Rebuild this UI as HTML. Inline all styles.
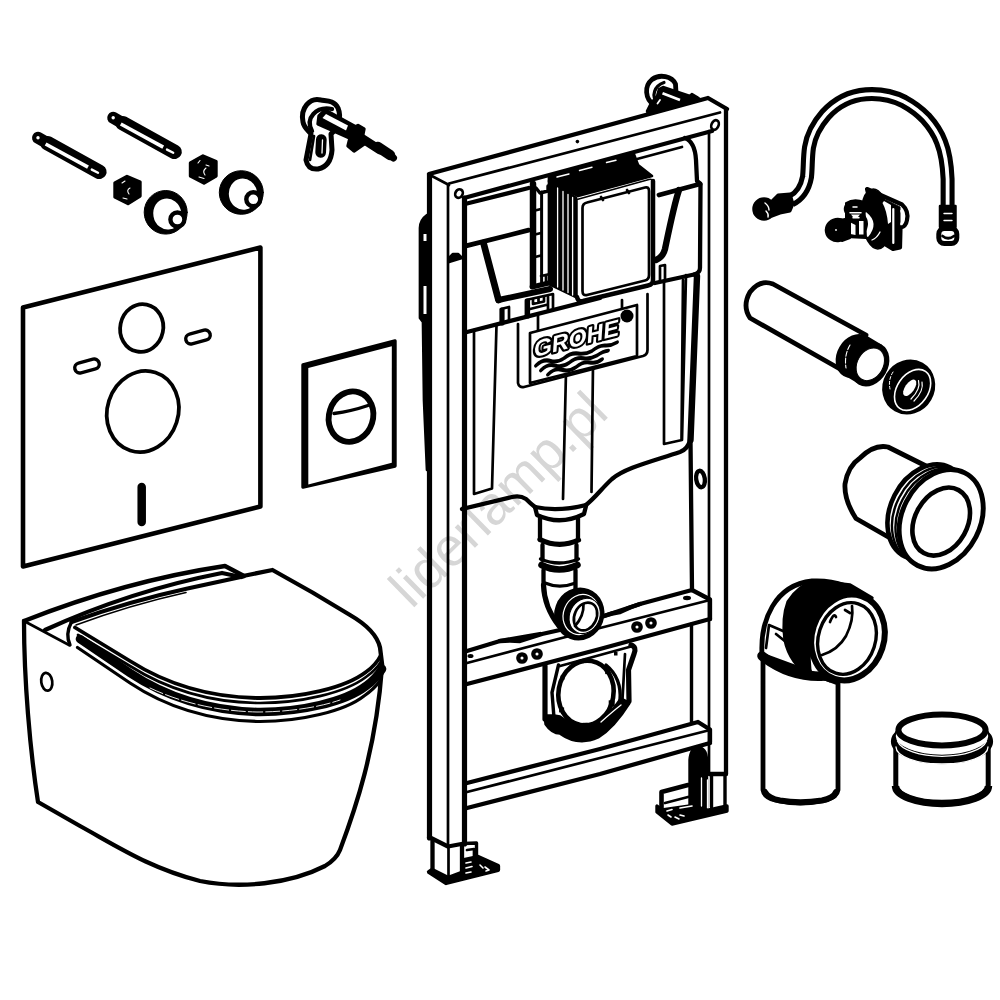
<!DOCTYPE html>
<html><head><meta charset="utf-8">
<style>
html,body{margin:0;padding:0;background:#fff;}
body{width:1000px;height:1000px;overflow:hidden;font-family:"Liberation Sans",sans-serif;}
svg{display:block}
.k{stroke:#000;fill:none;stroke-linecap:round;stroke-linejoin:round}
.w{fill:#fff}
.b{fill:#000}
.s1{stroke-width:1.6}.s2{stroke-width:2.7}.s3{stroke-width:3.4}.s4{stroke-width:4.3}.s5{stroke-width:5.2}.s6{stroke-width:6.2}
</style></head><body>
<svg width="1000" height="1000" viewBox="0 0 1000 1000">
<rect width="1000" height="1000" fill="#fff"/>
<!-- WATERMARK -->
<g id="wm"><text x="0" y="0" transform="translate(411.8,609.8) rotate(-44.4)" font-family="Liberation Sans, sans-serif" font-size="54.4" fill="#d6d6d6">liderlamp.pl</text></g>

<!-- MAT -->
<g id="mat" class="k">
<polygon points="23,307.5 260.4,247.5 260.4,506.5 23,566.5" stroke-width="4.6"/>
<ellipse stroke-width="3.8" cx="141.7" cy="328" rx="21.5" ry="24" transform="rotate(12 141.7 328)"/>
<ellipse stroke-width="3.8" cx="142.8" cy="411.5" rx="35.5" ry="41" transform="rotate(18 142.8 411.5)"/>
<rect class="s3" x="185.5" y="332" width="25" height="10" rx="5" transform="rotate(-15 198 337)"/>
<rect class="s3" x="74.5" y="361" width="25" height="10" rx="5" transform="rotate(-15 87 366)"/>
<line x1="141.7" y1="487" x2="141.7" y2="522" stroke-width="8.5"/>
</g>

<!-- FLUSH PLATE -->
<g id="plate">
<polygon class="b k s3" points="303,365 395,341 395,466 303,487"/>
<polygon class="w" points="308.3,368 391.8,346.3 391.8,462.8 308.3,484.6"/>
<ellipse class="k" stroke-width="5.9" cx="351" cy="416.6" rx="22" ry="25.5" transform="rotate(18 351 416.6)"/>
<path class="k s3" d="M334,413.5 Q352,411 368,405.5"/>
</g>

<!-- TOILET -->
<g id="toilet" class="k">
<path class="s4" d="M24,621 C24,680 30,750 38,802 L80,826 C120,848 150,868 200,881 C240,889 290,884 325,866 C335,860 338,855 340,850 C355,810 376,750 382,667"/>
<path class="s4" d="M24,621 Q125,581 225,566 L244,576"/>
<path class="s4" d="M45,630 Q130,591 222,573 L241,577"/>
<path class="s2" d="M24,621 L69,645"/>
<path class="s4" d="M243,576 L272.5,570 L312.5,592.5 L350,615 Q376,630 380,647.5 L382.5,667.5"/>
<path class="s4" d="M71.5,622 Q130,601 187.5,588.5 L243,576.5"/>
<path class="s1" d="M76,625 Q130,605 186,592.5"/>
<path class="s3" d="M71.5,622 Q65,634 70,645"/>
<path stroke-width="3.8" d="M75,627.5 L130,661 C160,680 200,697 257,698 C300,698.5 345,688 366,672 Q376,665 381,655"/>
<path class="s2" d="M78,635 L130,666 C160,685 200,702 257,703 C300,703.5 345,693 366,677 Q376,670 381.5,661"/>
<path d="M80,639 L130,673 C160,693 200,710 257,712 C300,712.5 345,702 366,686 Q376,679 382,669" stroke-width="8.6"/>
<path d="M150,688 C180,702 215,711 257,712 C290,712 320,707 340,700" stroke="#fff" stroke-width="0.9" stroke-dasharray="14 3"/>
<path stroke-width="3.2" d="M77.5,647.5 L130,683 C160,703 200,720 257,721.5 C300,722 345,711 364,696 Q374,689 380,681"/>
<ellipse class="s2" cx="46.75" cy="681.75" rx="5.5" ry="9" transform="rotate(-8 46.75 681.75)"/>
</g>

<!-- FRAME -->
<g id="frame" class="k">
<!-- left post -->
<line class="s5" x1="429.5" y1="175" x2="429.5" y2="838"/>
<line class="s2" x1="448" y1="185" x2="448" y2="846"/>
<line class="s5" x1="464.5" y1="198" x2="464.5" y2="844"/>
<!-- top beam -->
<path class="s4" d="M429,174 L708,98 L727,109"/>
<path class="s2" d="M430,175 L449,185"/>
<path class="s2" d="M449,183.5 L720,112.5"/>
<path class="s4" d="M464,198 L712,131"/>
<ellipse class="s2" cx="459" cy="193.6" rx="3.6" ry="4.4" fill="#fff" transform="rotate(30 459 193.6)"/>
<ellipse class="s2" cx="715" cy="125" rx="3.5" ry="5" fill="#fff" transform="rotate(25 715 125)"/>
<circle cx="577.4" cy="141.6" r="1.8" fill="#000" stroke="none"/>
<!-- right post -->
<line class="s4" x1="726" y1="109" x2="726" y2="774"/>
<line class="s2" x1="709" y1="131" x2="709" y2="774"/>
<path class="s4" d="M685,138 Q695,142 696,160 L697,181 L700.5,184 L700,268 Q700,273 694,274.5"/>
<path d="M697,276 L690.5,440" stroke-width="6.4"/><path class="s4" d="M690.5,440 L692,590"/>
<line class="s3" x1="691.5" y1="624" x2="691.5" y2="722"/>
<!-- upper cross beam -->
<path class="s4" d="M467,651 L500,641 L540,634"/>
<path class="s4" d="M604,616 L640,604 L692,590 L710,599.5 L710,619"/>
<path class="s2" d="M467,663 L600,628 L710,600"/>
<path class="s4" d="M467,684 L600,649 L710,619"/>
<!-- lower cross beam -->
<path class="s4" d="M467,783 L600,749 L698,722 L710,729.5 L710,742"/>
<path class="s2" d="M467,792 L600,758 L710,730"/>
<path class="s4" d="M467,808 L600,774 L710,743"/>
</g>

<!-- TANK -->
<g id="tank" class="k">
<!-- top back line under beam -->
<path class="s4" d="M467,203.5 L528.6,188"/>
<path class="s2" d="M637,159 L682,147"/>
<!-- recess left -->
<path d="M467,245.6 L528.6,230.2" stroke-width="4.8"/>
<path d="M483.5,243 L498.5,300" stroke-width="6.8"/><path d="M498.5,300 L550,289" stroke-width="6"/>
<!-- recess right -->
<path d="M659,195 L700,184" stroke-width="4.8"/>
<path d="M679,190 C674,205 669,230 665,249 Q663,257 656,260" stroke-width="6.4"/>
<!-- tank front-top edge -->
<path class="s4" d="M467,332 L600,298"/>
<path class="s4" d="M655,283 L694,274.5"/>
<!-- small tabs -->
<path class="s2" d="M509,307 L509,321 M501,309 L509,307"/><path class="s5" d="M502,323 L502,310"/>
<path class="s2" d="M526,317 L526,300 L553,294 L553,310 M530,309 L546,305 M548,296 L548,311"/><path class="s5" d="M527.5,316 L527.5,301"/><path class="s2" d="M533,299 L533,304 L544,301.5 L544,297 M538.5,298 L538.5,302"/>
<path class="s2" d="M660,281 L660,266 L665,265 L665,279"/>
<!-- left rib -->
<path class="s2" d="M474,330 L474,494 L492,488.5 L496.5,325"/>
<!-- right rib -->
<path class="s2" d="M664,281 L664,444 L682,440 L686,275 M681.5,440 L683,280"/>
<!-- center channel -->
<path class="s2" d="M566,372 L563,499"/>
<path class="s2" d="M593,365 L591.5,492"/>
<!-- tank bottom -->
<path class="s4" d="M462,509 L512,497 Q520,495 526,499 Q531,504 535,507 M586,505 C596,497 602,488 612,479 C625,468 650,462 680,452 Q688,449 690,440"/>
<!-- GROHE plate -->
<path class="s2" d="M518,324 L518,383 Q519,388 524,387 L643,356 Q647.5,354.5 647.5,350 L647.5,294"/>
<path class="s2" d="M538,331 L538,315"/>
<path class="s2" d="M622,312 L622,300"/>
<polygon class="s2" points="530,333 637,305 637,356 530,383" fill="#fff"/>
<circle cx="627" cy="316" r="6.5" fill="#000" stroke="none"/>
</g>

<!-- CONTROL BOX -->
<g id="cbox" class="k">
<!-- left ladder bracket -->
<path d="M533,184 L533,285" stroke-width="6.5"/>
<path d="M541.6,192 L541.6,284" stroke-width="3"/>
<path class="s2" d="M533,211 L541,209 M533,235 L541,233 M533,257.5 L541,255.5"/>
<path class="s3" d="M536,188 L540,193 L548,191 L548,186"/>
<path d="M532,287 L553,282" stroke-width="5"/>
<path class="s2" d="M541,276 L550,274 M546,275 L546,283"/>
<!-- box body black side with ribs -->
<polygon class="b s2" points="549,181 576,198 576,297 549,284"/>
<path stroke="#fff" stroke-width="1.3" d="M557.6,188 L557.6,287 M563,191.5 L563,290 M568,194.5 L568,292.5 M572.6,197.5 L572.6,295" fill="none"/>
<!-- top black -->
<polygon class="b s2" points="549,177 568,171 634,154.5 638,165 652,176 578,196 549,181"/>
<path stroke="#fff" stroke-width="1.4" d="M557,177 L569,174 M579.5,170.5 L592,167.2 M606.5,162.5 L616,160.3" fill="none"/>
<!-- front frame -->
<path class="w" d="M577,199.5 L649,179.5 Q653,178.5 653,183 L653,280 Q653,284 649,285 L583,300.5 Q577,301.5 577,296 Z" stroke-width="1.5"/>
<path d="M653,181 L653,280 Q653,284.5 648,285.5 L583,301 Q578,302 577,297" stroke-width="4.5"/>
<path class="s2" d="M582.5,208 Q582.5,203.5 587,202.5 L645,187.5 Q649,186.5 649,191 L649,275 Q649,279.5 645,280.5 L587,295 Q582.5,296 582.5,291 Z"/>
<path class="s2" d="M601,197 L603,200 M627,190 L629,193"/>
</g>

<!-- FLUSH PIPE -->
<g id="fpipe" class="k">
<path class="s4 w" d="M535,507 L537,515 Q560,526 584,514 L586,506"/>
<path class="s4" d="M535,507 Q558,512 586,505"/>
<path class="s4" d="M540,518 L540,540 M578,517 L578,540"/>
<path class="s5" d="M540,539.5 Q559,549 578.5,540"/>
<path class="s4" d="M542.5,545 L542.5,560 M576.5,545 L576.5,560"/>
<path class="s3" d="M540.5,559 Q559,567 578.5,559"/>
<path d="M541.5,565 Q559,574 577.5,565" stroke-width="6.5"/>
<path class="s4" d="M543.5,570 L543.5,585 M575.5,570 L575.5,589"/>
<path class="s3" d="M545,583 Q559,589 574,583.5"/>
<path class="s5" d="M543.5,585 C544,600 548,612 559,626"/>
<!-- outlet ring -->
<ellipse class="b" cx="579.3" cy="614" rx="23" ry="24.5" stroke-width="4" transform="rotate(20 579.3 614)"/>
<ellipse cx="581" cy="614.5" rx="17.5" ry="20.5" fill="none" stroke="#fff" stroke-width="1.2" transform="rotate(22 581 614.5)"/>
<ellipse class="w" cx="584.7" cy="615.9" rx="15" ry="18.2" stroke-width="1" transform="rotate(25 584.7 615.9)"/>
<ellipse class="s2" cx="585.5" cy="616.5" rx="11" ry="14.5" transform="rotate(25 585.5 616.5)"/>
<path class="s2" d="M575,626 Q584,616 583.5,604"/>
</g>
<!-- beam holes -->
<g class="k">
<circle class="s4" cx="522" cy="658" r="3.7"/><circle class="s4" cx="537" cy="654" r="3.7"/>
<circle class="s4" cx="637" cy="627" r="3.7"/><circle class="s4" cx="651" cy="623" r="3.7"/>
<ellipse cx="470.5" cy="656" rx="3" ry="2" fill="#000" stroke="none"/>
<ellipse cx="687" cy="598" rx="4" ry="2.2" fill="#000" stroke="none"/>
<ellipse class="s4" cx="700.5" cy="479" rx="4.3" ry="8.3" fill="#fff" transform="rotate(-8 700.5 479)"/>
<!-- beam top-back between -->
<path class="s4" d="M500,641 Q510,640 520,641 L542,634 L560,630"/>
<path class="s4" d="M604,616 Q612,613 620,612 Q630,607 640,604"/>
</g>
<!-- DRAIN HOLDER -->
<g id="drain" class="k">
<path class="s2" d="M560,666 L631,646.5"/>
<path class="s5" d="M545,666 L545,719"/>
<path class="s3" d="M558.5,665 L552,692.5 L554,718"/>
<path class="s5" d="M631,645 Q637,647 634,654 L628.5,670 L629,701"/>
<path class="s2" d="M625,654 L622.5,699"/>
<ellipse cx="586" cy="693" rx="27.5" ry="32.5" transform="rotate(10 586 693)" stroke-width="4.6"/>
<path class="s3" d="M606,665 Q622,678 620,701"/>
<path class="b s3" d="M545,716 L546,724 Q552,733 560,733 Q578,746 598,737 Q614,727 629,703 L621,699 Q606,721 592,725 Q575,729 560,717 L554,716 Z"/>
<path stroke="#fff" stroke-width="1.3" fill="none" d="M601,722 Q612,712 621,705"/>
<g fill="#000" stroke="none"><rect x="580.0" y="659.3" width="4" height="4"/><rect x="560.5" y="675.6" width="4" height="4"/><rect x="559.1" y="707.4" width="5" height="5"/><rect x="582.6" y="722.8" width="5" height="5"/><rect x="608.7" y="700.3" width="6" height="6"/><rect x="605.2" y="669.1" width="5" height="5"/><rect x="614" y="652" width="3.5" height="3.5"/></g>
</g>

<!-- LEFT FOOT -->
<g id="lfoot" class="k">
<path class="s4" d="M429,837 L448,846.5 L464,843.5"/>
<path class="s4" d="M432.5,841 L432.5,872 M462,846 L462,872"/>
<path class="s2" d="M448.5,848 L448.5,878"/>
<path class="s3" d="M464,843.5 L476.5,843 L476.5,858"/>
<path class="s2" d="M467,850 L474,849 L474,858"/>
<path class="b s4" d="M429,872 L446,883 L498,870 L498,866 L478,857 L464,860 L464,872 L448,878 L432,870 Z"/>
<path stroke="#fff" stroke-width="1.6" fill="none" d="M466,863 L471,862 M466,868 L472,866.5 M466,873 L471,872 M480,865 L483,868 M485,867 L489,870 L486,871"/>
</g>
<!-- RIGHT FOOT -->
<g id="rfoot" class="k">
<path class="s4" d="M709,774 L726,774"/>
<path class="s3" d="M711.5,776 L711.5,807 M725,776 L725,806"/>
<path class="b s3" d="M690,760 Q691,748 698,748 Q706,748 706.5,760 L706.5,808 L690,810 Z"/>
<path stroke="#fff" stroke-width="1.3" fill="none" d="M701.5,778 L701.5,806 M707.5,780 L707.5,808"/>
<path stroke-width="4.6" d="M661.5,808 L661.5,792 L688,785"/>
<path class="s2" d="M665,803 L688,797"/>
<path class="b s3" d="M657,806 L657,812 L672,824 L727,811 L727,806 L700,812 L690,806 L662,810 Z"/>
<path stroke="#fff" stroke-width="1.6" fill="none" d="M667,811 L672,809.5 M680,808 L692,806 M668,815 L671,817 M675,817 L679,819 M680,815 L684,816"/>
</g>
<!-- LEFT SIDE BRACKET -->
<g id="lbr" class="k">
<path class="b s2" d="M427,215 Q420,220 420,228 L420,318 L423,322 L424,400 L427,470 L427,215 Z"/>
<path stroke="#fff" stroke-width="3" fill="none" stroke-linecap="butt" d="M425,234 L425,241 M425,286 L425,314"/>
<path class="b s2" d="M449,258 L453,254 L458,254 L462,258 L449,262 Z"/>
</g>
<!-- WALL BRACKET TOP -->
<g id="wbr" class="k">
<path class="w" stroke-width="4.8" d="M654,105 C645,99 644,86 652,79.5 C660,73.5 672,76.5 675.5,84 L676,93"/>
<path stroke-width="3.2" d="M657.5,103 C651,96 654,86 664,82.5"/>
<path class="b" stroke-width="2.5" d="M651,103 L657,96 L659,89 L663,87 L690,96 L692,94 L697,97 L701,100 L648,114 L647,111 Z"/>
<path stroke="#fff" stroke-width="2.8" fill="none" stroke-linecap="butt" d="M662.5,93.2 L680,100"/>
<path stroke="#fff" stroke-width="1.8" fill="none" d="M657.5,103.5 L660,100"/>
</g>

<!-- BOLTS -->
<g id="bolts" class="k">
<line x1="38" y1="137.8" x2="44.5" y2="141.4" stroke-width="12"/>
<line x1="47.5" y1="143.2" x2="99.3" y2="171.8" stroke-width="14.6"/>
<line x1="45.6" y1="144" x2="88" y2="167.2" stroke="#fff" stroke-width="3.6" stroke-linecap="butt"/>
<line x1="91.8" y1="169.6" x2="98" y2="172.8" stroke="#fff" stroke-width="2.4"/>
<circle cx="38" cy="137.8" r="1.7" fill="#fff" stroke="none"/>
<line x1="113.2" y1="117.8" x2="119.7" y2="121.4" stroke-width="12"/>
<line x1="122.7" y1="123.2" x2="174.5" y2="151.8" stroke-width="14.6"/>
<line x1="120.8" y1="124" x2="163.2" y2="147.2" stroke="#fff" stroke-width="3.6" stroke-linecap="butt"/>
<line x1="167.0" y1="149.6" x2="173.2" y2="152.8" stroke="#fff" stroke-width="2.4"/>
<circle cx="113.2" cy="117.8" r="1.7" fill="#fff" stroke="none"/>
</g>
<!-- NUTS -->
<g id="nuts" class="k">
<polygon class="b s3" points="115,183 127,176.5 140,182 140,196 128,203.5 115,197"/>
<path stroke="#fff" stroke-width="1.1" fill="none" d="M122,183 L125,181 M130,188 Q126,190 129,194 M123,198 L127,199"/>
<polygon class="b s3" points="190.5,163 203,156 216,161.5 216,176 204,183 190.5,176"/>
<path stroke="#fff" stroke-width="1.1" fill="none" d="M198,163 L200,160.5 M206,165 L209,166 M206,168 Q202,171 205,175 M199,177 L204,178.5"/>
</g>
<!-- CAPS -->
<g id="caps" class="k">
<ellipse class="b" cx="165.7" cy="212.3" rx="21.5" ry="21.8" stroke-width="1"/>
<ellipse class="w" cx="167.3" cy="214" rx="14" ry="15.6" stroke="none" transform="rotate(-10 167.3 214)"/>
<circle class="w" cx="177.4" cy="219.5" r="7" stroke-width="4.4"/>
<ellipse class="b" cx="241.3" cy="192.5" rx="22" ry="21.8" stroke-width="1"/>
<ellipse class="w" cx="243.1" cy="194.2" rx="14.2" ry="15.6" stroke="none" transform="rotate(-10 243.1 194.2)"/>
<circle class="w" cx="253.3" cy="199.3" r="7" stroke-width="4.4"/>
</g>
<!-- WALL ANCHOR (top left bracket) -->
<g id="anchor" class="k">
<path class="w" stroke-width="5" d="M321,100 C310,97 300,108 303,122 C304,128 309,131 311,134 L306,160 Q308,170 318,169 Q331,166 332,150 L331,134 C338,128 342,118 338,108 C334,100 326,101 321,100 Z"/>
<path class="s4" d="M312,131 C305,118 316,106 332,109"/>
<path class="s2" d="M314,136 L310,160"/>
<rect class="b s2" x="317" y="135.5" width="8" height="21" rx="4" transform="rotate(3 321 146)"/>
<path stroke="#fff" stroke-width="1.3" fill="none" d="M322.5,140 L322,153"/>
<polygon class="b s3" points="319,116 325,110 356,127 354,140 318,124"/>
<polygon class="w" points="322.5,118 326,114 348,125.5 346,130.5" stroke="none"/>
<line x1="322" y1="121" x2="345" y2="131.5" stroke="#000" stroke-width="1.6"/>
<polygon class="b s3" points="349,130 358,125.5 364,129 362,139 364,144 354,151 348,146 350,138"/>
<line x1="352" y1="132" x2="380" y2="150" stroke-width="9"/>
<line x1="378" y1="147" x2="390" y2="155" stroke-width="10.5"/>
<line x1="390" y1="155" x2="393.5" y2="158" stroke-width="7"/>
</g>

<!-- HOSE -->
<g id="hose" class="k">
<path d="M791,200.5 C800,196 805,188 807,177 C808,168 807.5,158 809,147.5 C811,135 818,123 825.5,114.5 C836,103 850,95.5 866,94.3 C880,93.3 893,96 904,101.6 C914,107 920,112 925.6,117.8 C933,126 938,134 941,142 C945,152 947,165 947.6,179 L947.6,207" stroke-width="14" stroke-linecap="butt"/>
<path d="M791,200.5 C800,196 805,188 807,177 C808,168 807.5,158 809,147.5 C811,135 818,123 825.5,114.5 C836,103 850,95.5 866,94.3 C880,93.3 893,96 904,101.6 C914,107 920,112 925.6,117.8 C933,126 938,134 941,142 C945,152 947,165 947.6,179 L947.6,207" stroke="#fff" stroke-width="3.8" stroke-linecap="butt"/>
<circle class="b" cx="764" cy="209" r="10.5" stroke-width="2.5"/>
<path class="b" d="M772,201 L778,195 L790,194 L793,204 L790,211 L780,213 L772,216 Z" stroke-width="3"/>
<path stroke="#fff" stroke-width="1.4" fill="none" d="M765,203 Q769,206 769,210 M766,211 Q769,214 768,217"/>
<rect class="b" x="940" y="206" width="15.5" height="21" stroke-width="2.5"/>
<path stroke="#fff" stroke-width="1.4" fill="none" d="M944,213.5 L952,213.5 M944,220.5 L952,220.5"/>
<rect class="w" x="938.8" y="228.5" width="18" height="15" rx="5.5" stroke-width="5"/>
<path class="s2" d="M942.5,236 Q948,240.5 954,236"/>
</g>
<!-- VALVE -->
<g id="valve" class="k">
<path class="w" stroke-width="4.2" d="M867,189 L902,204.5 Q909,211 907,220 Q906,226.5 900.5,227.5 L900,247.5 L893,249 L880,241 Z"/>
<path class="b" stroke-width="1" d="M886,200 L900,207 L900,247 L893,249 L886,244 Z"/>
<path stroke="#fff" stroke-width="2.2" fill="none" d="M893.3,209 L893.3,243"/>
<path stroke="#fff" stroke-width="2.6" fill="none" d="M901.5,211 Q905,218 901.5,224"/>
<ellipse class="b" cx="875.5" cy="219" rx="14" ry="30" stroke-width="1.5" transform="rotate(-6 875.5 219)"/>
<path fill="#fff" stroke="none" d="M884,201 L891,205 L891,222 L888,224 Q887,211 882.5,203 Z"/>
<path fill="#fff" stroke="none" d="M866,212 Q880,223 868,237 L864,235 Q872,223 864,214 Z"/>
<path stroke="#fff" stroke-width="1.3" fill="none" d="M872,240 Q877,238 880,232"/>
<path class="b" stroke-width="2" d="M846,203 Q854,198 864,202 L866,238 L846,237 Z"/>
<ellipse class="b" cx="854.5" cy="209" rx="10" ry="8" stroke-width="1.5"/>
<path stroke="#fff" stroke-width="1.5" fill="none" d="M853,207 L857,207 M850,212.8 L861,212.8 M853,217.8 L859,217.8"/>
<path fill="#fff" stroke="none" d="M849.5,222 L855.5,225 L855.5,235 L850.5,234 Z M859,221 L863.5,221 L863.5,234.5 L859,234.5 Z M851,214.5 L860,214.5 L858,217 L853,217 Z"/>
<ellipse class="b" cx="837.5" cy="230" rx="12" ry="11.5" stroke-width="1.5" transform="rotate(-10 837.5 230)"/>
<path class="b" stroke-width="2" d="M840,220 L850,218 L850,238 L842,241 Z"/>
<circle cx="836" cy="230" r="0.9" fill="#fff" stroke="none"/>
</g>
<!-- STRAIGHT PIPE -->
<g id="spipe" class="k">
<path class="w" stroke-width="4.8" d="M773,284 L866,335 L840,369 L750,318 Q742,306 750,292 Q760,279 773,284 Z"/>
<ellipse class="b" cx="855" cy="356" rx="16.5" ry="21.5" stroke-width="3" transform="rotate(30 855 356)"/>
<ellipse class="b" cx="870" cy="364.5" rx="16.5" ry="21.5" stroke-width="3" transform="rotate(30 870 364.5)"/>
<path class="b" stroke-width="3" d="M866,337 L881,346 L860,383 L845,374 Z"/>
<path stroke="#fff" stroke-width="1.1" fill="none" stroke-dasharray="5 2" d="M850,345 Q844,355 846,368"/>
<ellipse class="w" cx="870.3" cy="364.3" rx="13" ry="17.3" stroke-width="1" transform="rotate(30 870.3 364.3)"/>
<!-- seal -->
<ellipse class="b" cx="908.7" cy="387" rx="25" ry="27" stroke-width="2" transform="rotate(30 908.7 387)"/>
<ellipse cx="912.6" cy="389.9" rx="15.5" ry="22.5" fill="none" stroke="#fff" stroke-width="1.6" transform="rotate(35 912.6 389.9)"/>
<ellipse cx="909.7" cy="387.8" rx="4.6" ry="9.5" fill="#fff" stroke="none" transform="rotate(35 909.7 387.8)"/>
<path stroke="#fff" stroke-width="1.2" fill="none" d="M918.5,380.5 Q921,389 911,399 M922,382 Q924,391 914,401"/>
<path stroke="#fff" stroke-width="1" fill="none" stroke-dasharray="3 2" d="M893,372 Q888,380 890,389"/>
</g>
<!-- CONNECTOR -->
<g id="conn" class="k">
<path class="w" stroke-width="4.8" d="M888,447 L932,469 L890,538 L856,518.5 Q844,500 845,484 Q848,466 860,458 Q874,444 888,447 Z"/>
<ellipse class="w" stroke-width="4.6" cx="927.5" cy="512" rx="37" ry="50" transform="rotate(27 927.5 512)"/>
<ellipse class="w" stroke-width="2.4" cx="932" cy="514.5" rx="37" ry="50" transform="rotate(27 932 514.5)"/>
<ellipse class="w" stroke-width="2.4" cx="936" cy="516.5" rx="37.5" ry="50.5" transform="rotate(27 936 516.5)"/>
<ellipse class="w" stroke-width="4.9" cx="941.2" cy="519.2" rx="39" ry="52" transform="rotate(27 941.2 519.2)"/>
<ellipse class="w" stroke-width="4.6" cx="941.2" cy="521.6" rx="26.2" ry="36" transform="rotate(29 941.2 521.6)"/>
</g>
<!-- ELBOW -->
<g id="elbow" class="k">
<path class="w" stroke-width="4.8" d="M763,655 L763,790 Q764,797 775,800 Q800,806 826,800 Q837,797 838,790 L838,683 L763,655 Z"/>
<path d="M765,792 Q768,798 780,800.5 Q800,804 822,800.5 Q834,798 836,792" stroke-width="6"/>
<path class="w" stroke-width="4.8" d="M762,655 C760,620 775,585 812,581 C830,580 850,584 870,600 L830,680 Z"/>
<path class="b s3" d="M788,602 Q798,586 815,581 L850,585 L872,598 Q830,600 812,640 Q806,660 812,678 Q790,664 785,640 Q782,618 788,602 Z"/>
<path d="M762,656 Q790,678 824,676" stroke-width="9.5"/>
<path class="s2" d="M766,648 L769,625 L783,631 M776,634 L786,642"/>
<ellipse class="w" stroke-width="6" cx="848" cy="637.5" rx="36" ry="43.5" transform="rotate(18 848 637.5)"/>
<ellipse class="s3 w" cx="847" cy="638.5" rx="28.5" ry="36.5" transform="rotate(18 847 638.5)"/>
<path class="s2" d="M822,655 Q838,650 846,636 Q854,620 852,606 M830,622 Q834,612 836,617 M845,610 L850,613"/>
</g>
<!-- CAP -->
<g id="cap" class="k">
<path class="w" d="M895.8,748 L895.8,785 A46.2,18 0 0 0 988.2,785 L988.2,748 Z" stroke-width="5"/>
<path d="M895.5,786 A46.5,17.5 0 0 0 988.5,786" stroke-width="7.4" stroke-linecap="butt"/>
<ellipse class="b" cx="942" cy="741.5" rx="49.3" ry="21" stroke-width="3.6"/>
<ellipse cx="942" cy="736" rx="47" ry="19.5" fill="#fff" stroke="#000" stroke-width="1.5"/>
<path stroke="#fff" stroke-width="1.3" fill="none" d="M897.5,741 A45,18 0 0 0 986.5,741 M896,747 A46,17 0 0 0 988,747"/>
<ellipse class="w" cx="942" cy="730" rx="43.6" ry="15.4" stroke-width="6"/>
</g>

<!-- GROHE LABEL -->
<g id="grohe" style="filter:grayscale(1)">
<text transform="matrix(1,-0.262,-0.07,1,533.5,357.5)" font-family="Liberation Sans, sans-serif" font-weight="bold" font-size="23.5" textLength="85" lengthAdjust="spacingAndGlyphs" fill="#fff" stroke="#000" stroke-width="4.4" paint-order="stroke" stroke-linejoin="round">GROHE</text>
<g class="k" stroke-width="3.9" transform="matrix(1,-0.262,0,1,0,0)">
<path d="M536,506 q7,-5 14,-1 t14,1 q7,-4 14,-1 t14,1 q7,-4 13,-2 t12,0"/>
<path d="M541,512 q7,-5 14,-1 t14,1 q7,-4 14,-1 t14,1 q6,-3 11,-2"/>
<path d="M548,518 q7,-5 14,-1 t14,1 q7,-4 14,-1 t12,0"/>
</g>
</g>
</svg>
</body></html>
